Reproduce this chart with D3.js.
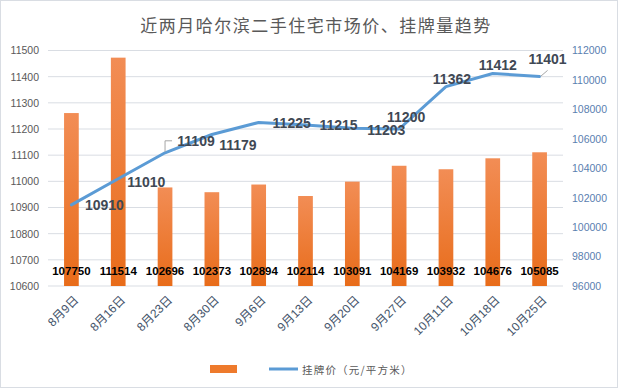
<!DOCTYPE html>
<html>
<head>
<meta charset="utf-8">
<script src="https://cdn.jsdelivr.net/npm/d3@7"></script>
<style>
  body { margin: 0; background: #fff; }
  svg { display: block; font-family: "Liberation Sans", Arial, "Noto Sans CJK SC", sans-serif; }
</style>
</head>
<body>
<svg id="chart" width="618" height="388"></svg>
<script>
// ---- data ----
const dates = ["8月9日", "8月16日", "8月23日", "8月30日", "9月6日", "9月13日", "9月20日", "9月27日", "10月11日", "10月18日", "10月25日"];
const listings = [107750, 111514, 102696, 102373, 102894, 102114, 103091, 104169, 103932, 104676, 105085];
const prices = [10910, 11010, 11109, 11179, 11225, 11215, 11203, 11200, 11362, 11412, 11401];
const leftTicks = [10600, 10700, 10800, 10900, 11000, 11100, 11200, 11300, 11400, 11500];
const rightTicks = [96000, 98000, 100000, 102000, 104000, 106000, 108000, 110000, 112000];

// label offsets for the price line (dx, dy from the point)
const labelOffsets = [[33, 0], [28, 3], [31, -12], [26, 11], [33, 1], [33, 0], [34, 2], [7, -12], [6, -8], [5, -9], [8, -17]];

const svg = d3.select("#chart");
const W = 618, H = 388;
const plot = { left: 48, right: 563, top: 50.5, bottom: 286 };

// outer frame
svg.append("rect")
  .attr("x", 0.5).attr("y", 0.5)
  .attr("width", W - 1).attr("height", H - 1)
  .attr("fill", "#fff").attr("stroke", "#d9dde3");

// title
svg.append("text")
  .attr("x", 316).attr("y", 24)
  .attr("text-anchor", "middle").attr("dominant-baseline", "central")
  .attr("font-family", "'Noto Sans CJK SC', sans-serif")
  .attr("font-size", 17).attr("letter-spacing", 1.5)
  .attr("fill", "#595959")
  .text("近两月哈尔滨二手住宅市场价、挂牌量趋势");

// scales
const x = d3.scaleBand().domain(dates)
  .range([plot.left, plot.right])
  .paddingInner(0.686).paddingOuter(0.343);
const yL = d3.scaleLinear().domain([10600, 11500]).range([plot.bottom, plot.top]);
const yR = d3.scaleLinear().domain([96000, 112000]).range([plot.bottom, plot.top]);
const cx = d => x(d) + x.bandwidth() / 2;

// gridlines
svg.append("g").selectAll("line").data(leftTicks).join("line")
  .attr("x1", plot.left).attr("x2", plot.right)
  .attr("y1", d => yL(d)).attr("y2", d => yL(d))
  .attr("stroke", "#d9dde3").attr("stroke-width", 1);

// left axis
const axL = svg.append("g").attr("transform", `translate(${plot.left - 9},0)`)
  .call(d3.axisLeft(yL).tickValues(leftTicks).tickSize(0).tickPadding(0).tickFormat(d3.format("d")));
axL.select(".domain").remove();
axL.selectAll("text").attr("font-size", 10.5).attr("fill", "#595959")
  .attr("font-family", "'Liberation Sans', Arial, sans-serif");

// right axis
const axR = svg.append("g").attr("transform", `translate(${plot.right + 9},0)`)
  .call(d3.axisRight(yR).tickValues(rightTicks).tickSize(0).tickPadding(0).tickFormat(d3.format("d")));
axR.select(".domain").remove();
axR.selectAll("text").attr("font-size", 10.5).attr("fill", "#5a80b0")
  .attr("font-family", "'Liberation Sans', Arial, sans-serif");

// bar gradient
const defs = svg.append("defs");
const grad = defs.append("linearGradient").attr("id", "barGrad")
  .attr("x1", 0).attr("y1", 0).attr("x2", 0).attr("y2", 1);
grad.append("stop").attr("offset", "0%").attr("stop-color", "#f28d55");
grad.append("stop").attr("offset", "100%").attr("stop-color", "#e86c1a");

// bars
svg.append("g").selectAll("rect").data(listings).join("rect")
  .attr("x", (d, i) => x(dates[i]))
  .attr("y", d => yR(d))
  .attr("width", x.bandwidth())
  .attr("height", d => yR(96000) - yR(d))
  .attr("fill", "url(#barGrad)");

// bar labels (inside base)
svg.append("g").selectAll("text").data(listings).join("text")
  .attr("x", (d, i) => cx(dates[i]))
  .attr("y", yR(96000) - 15)
  .attr("text-anchor", "middle").attr("dominant-baseline", "central")
  .attr("font-size", 11.5).attr("font-weight", "bold").attr("fill", "#000")
  .text(d => d);

// x axis labels
svg.append("g").selectAll("text").data(dates).join("text")
  .attr("transform", d => `translate(${cx(d) + 5},${plot.bottom + 12}) rotate(-45)`)
  .attr("text-anchor", "end").attr("dominant-baseline", "central")
  .attr("font-size", 12).attr("fill", "#44546a")
  .attr("font-family", "'Liberation Sans', Arial, 'Noto Sans CJK SC', sans-serif")
  .text(d => d);

// price line
const line = d3.line()
  .x((d, i) => cx(dates[i]))
  .y(d => yL(d));
svg.append("path").datum(prices)
  .attr("d", line)
  .attr("fill", "none").attr("stroke", "#5b9bd5")
  .attr("stroke-width", 3).attr("stroke-linejoin", "round").attr("stroke-linecap", "round");

// leader lines
const p2 = [cx(dates[2]), yL(prices[2])];
svg.append("path")
  .attr("d", `M${p2[0]},${p2[1] - 1}V${p2[1] - 12}H${p2[0] + 7}`)
  .attr("fill", "none").attr("stroke", "#a6a6a6").attr("stroke-width", 1);
const p10 = [cx(dates[10]), yL(prices[10])];
svg.append("path")
  .attr("d", `M${p10[0] + 1},${p10[1]}L${p10[0] + 8},${p10[1] - 6}`)
  .attr("fill", "none").attr("stroke", "#a6a6a6").attr("stroke-width", 1);

// price labels
svg.append("g").selectAll("text").data(prices).join("text")
  .attr("x", (d, i) => cx(dates[i]) + labelOffsets[i][0])
  .attr("y", (d, i) => yL(d) + labelOffsets[i][1])
  .attr("text-anchor", "middle").attr("dominant-baseline", "central")
  .attr("font-size", 14).attr("font-weight", "bold").attr("fill", "#404854")
  .text(d => d);

// legend
svg.append("rect").attr("x", 210).attr("y", 365).attr("width", 27).attr("height", 8)
  .attr("fill", "#ee7a2c");
svg.append("line").attr("x1", 269).attr("x2", 298).attr("y1", 369).attr("y2", 369)
  .attr("stroke", "#5b9bd5").attr("stroke-width", 3);
svg.append("text").attr("x", 302).attr("y", 369)
  .attr("dominant-baseline", "central")
  .attr("font-family", "'Noto Sans CJK SC', sans-serif")
  .attr("font-size", 10.5).attr("letter-spacing", 1.2).attr("fill", "#595959")
  .text("挂牌价（元/平方米）");
</script>
</body>
</html>
